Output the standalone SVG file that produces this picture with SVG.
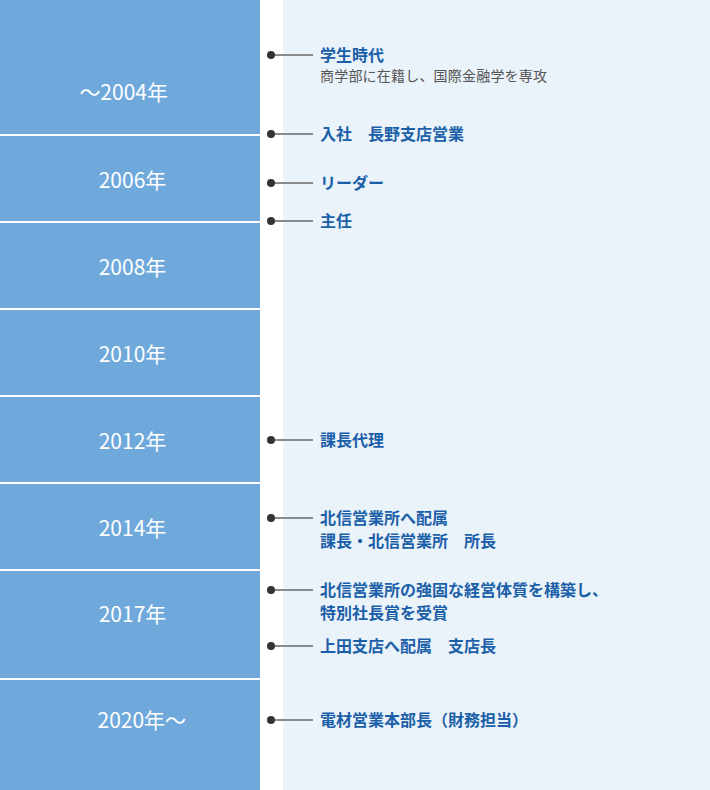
<svg xmlns="http://www.w3.org/2000/svg" width="710" height="790" viewBox="0 0 710 790">
<style>
.yr{font-family:"Noto Sans CJK JP","Noto Sans",sans-serif;font-size:21px;font-weight:400;fill:#ffffff;}
.t{font-family:"Noto Sans CJK JP","Noto Sans",sans-serif;font-size:16px;font-weight:bold;fill:#1b5fa8;}
.s{font-family:"Noto Sans CJK JP","Noto Sans",sans-serif;font-size:14px;letter-spacing:0.2px;fill:#555555;}
.ln{stroke:#8a8a8a;stroke-width:2;}
.dt{fill:#333333;}
.dv{stroke:#ffffff;stroke-width:2;}
</style>
<rect x="0" y="0" width="710" height="790" fill="#ffffff"/>
<rect x="0" y="0" width="260" height="790" fill="#6fa9db"/>
<rect x="283" y="0" width="427" height="790" fill="#eaf2fa"/>
<g id="dividers">
<line class="dv" x1="0" y1="135" x2="260" y2="135"/>
<line class="dv" x1="0" y1="222" x2="260" y2="222"/>
<line class="dv" x1="0" y1="309" x2="260" y2="309"/>
<line class="dv" x1="0" y1="396" x2="260" y2="396"/>
<line class="dv" x1="0" y1="483" x2="260" y2="483"/>
<line class="dv" x1="0" y1="570" x2="260" y2="570"/>
<line class="dv" x1="0" y1="679" x2="260" y2="679"/>
</g>
<g id="years">
<text id="y2004" class="yr" x="168" y="100" text-anchor="end">～2004年</text>
<text id="y2006" class="yr" x="132.5" y="188" text-anchor="middle">2006年</text>
<text id="y2008" class="yr" x="132.5" y="275" text-anchor="middle">2008年</text>
<text id="y2010" class="yr" x="132.5" y="362" text-anchor="middle">2010年</text>
<text id="y2012" class="yr" x="132.5" y="449" text-anchor="middle">2012年</text>
<text id="y2014" class="yr" x="132.5" y="536" text-anchor="middle">2014年</text>
<text id="y2017" class="yr" x="132.5" y="622" text-anchor="middle">2017年</text>
<text id="y2020" class="yr" x="97.5" y="728" text-anchor="start">2020年～</text>
</g>
<g id="connectors">
<line class="ln" x1="271" y1="55" x2="313" y2="55"/>
<line class="ln" x1="271" y1="134" x2="313" y2="134"/>
<line class="ln" x1="271" y1="183" x2="313" y2="183"/>
<line class="ln" x1="271" y1="221" x2="313" y2="221"/>
<line class="ln" x1="271" y1="440" x2="313" y2="440"/>
<line class="ln" x1="271" y1="518" x2="313" y2="518"/>
<line class="ln" x1="271" y1="590" x2="313" y2="590"/>
<line class="ln" x1="271" y1="646" x2="313" y2="646"/>
<line class="ln" x1="271" y1="720" x2="313" y2="720"/>
<circle class="dt" cx="271" cy="55" r="4"/>
<circle class="dt" cx="271" cy="134" r="4"/>
<circle class="dt" cx="271" cy="183" r="4"/>
<circle class="dt" cx="271" cy="221" r="4"/>
<circle class="dt" cx="271" cy="440" r="4"/>
<circle class="dt" cx="271" cy="518" r="4"/>
<circle class="dt" cx="271" cy="590" r="4"/>
<circle class="dt" cx="271" cy="646" r="4"/>
<circle class="dt" cx="271" cy="720" r="4"/>
</g>
<g id="ev1"><text class="t" x="320" y="60.5">学生時代</text><text class="s" x="320" y="80.5">商学部に在籍し、国際金融学を専攻</text></g>
<g id="ev2"><text class="t" x="320" y="139.5">入社　長野支店営業</text></g>
<g id="ev3"><text class="t" x="320" y="188.5">リーダー</text></g>
<g id="ev4"><text class="t" x="320" y="226.5">主任</text></g>
<g id="ev5"><text class="t" x="320" y="445.5">課長代理</text></g>
<g id="ev6"><text class="t" x="320" y="523.5">北信営業所へ配属</text><text class="t" x="320" y="547">課長・北信営業所　所長</text></g>
<g id="ev7"><text class="t" x="320" y="595.5">北信営業所の強固な経営体質を構築し、</text><text class="t" x="320" y="619">特別社長賞を受賞</text></g>
<g id="ev8"><text class="t" x="320" y="651.5">上田支店へ配属　支店長</text></g>
<g id="ev9"><text class="t" x="320" y="725.5">電材営業本部長（財務担当）</text></g>
</svg>
